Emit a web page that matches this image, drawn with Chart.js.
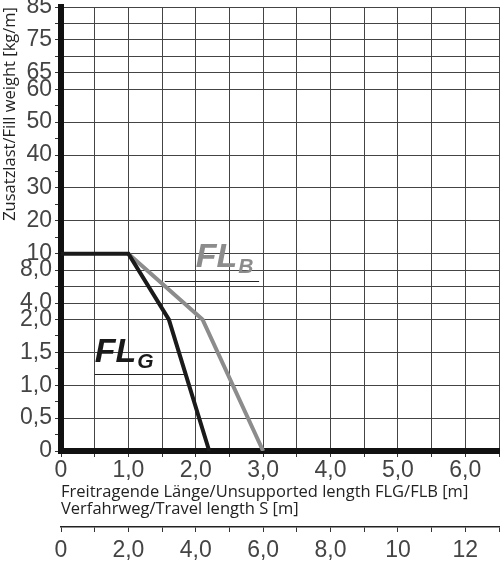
<!DOCTYPE html>
<html>
<head>
<meta charset="utf-8">
<script src="https://cdn.jsdelivr.net/npm/chart.js@4/dist/chart.umd.min.js"></script>
<style>
  html, body { margin: 0; padding: 0; background: #fff; }
  #wrap { width: 500px; height: 561px; }
</style>
</head>
<body>
<div id="wrap"><canvas id="chart" width="500" height="561"></canvas></div>
<script>
// FL_G curve (black) and FL_B curve (grey), length in m / fill weight in kg/m
const flgX = [0, 1.0, 1.6, 2.2];
const flgY = [10, 10, 2.0, 0];
const flbX = [1.0, 2.1, 3.0];
const flbY = [10, 2.0, 0];

// y axis: piecewise scale (0-2, 2-10, 10-85), grid rows per band
const yBreaks = [0, 2, 10, 85];
const yBandRows = [8, 4, 15];
const yGridValues = [0, 0.5, 1, 1.5, 2, 4, 6, 8, 10, 20, 30, 40, 50, 60, 65, 70, 75, 80, 85];
const yMinorValues = [0.25, 0.75, 1.25, 1.75, 15, 25, 35, 45, 55];
const yLabelValues = [0, 0.5, 1, 1.5, 2, 4, 8, 10, 20, 30, 40, 50, 60, 65, 75, 85];
const yLabelTexts = ['0', '0,5', '1,0', '1,5', '2,0', '4,0', '8,0', '10', '20', '30', '40', '50', '60', '65', '75', '85'];

// x axis (m) and travel length axis S (m)
const xLabelValues = [0, 1, 2, 3, 4, 5, 6];
const xLabelTexts = ['0', '1,0', '2,0', '3,0', '4,0', '5,0', '6,0'];
const sLabelValues = [0, 2, 4, 6, 8, 10, 12];
const sLabelTexts = ['0', '2,0', '4,0', '6,0', '8,0', '10', '12'];

// curve name labels (placed in data units)
const curveLabels = [
  { sub: 'G', color: '#1a1a1a', x: 0.5, y: 1.35, lineFrom: 0.5, lineTo: 1.84, lineY: 1.17 },
  { sub: 'B', color: '#8c8c8c', x: 2.0, y: 8.4, lineFrom: 1.54, lineTo: 2.94, lineY: 6.64 }
];

const tickFont = { family: '"Liberation Sans", Arial, sans-serif', size: 23 };
const titleFont = { family: '"Open Sans", sans-serif', size: 16.5 };

// piecewise linear scale
class PieceScale extends Chart.LinearScale {
  buildTicks() {
    this.start = this.min;
    this.end = this.max;
    return yGridValues.concat(yMinorValues).sort((a, b) => a - b).map(v => ({ value: v }));
  }
  getPixelForValue(value) {
    if (value === null || value === undefined) return NaN;
    const total = yBandRows.reduce((a, b) => a + b, 0);
    let rows = 0;
    for (let i = 0; i < yBandRows.length; i++) {
      const lo = yBreaks[i], hi = yBreaks[i + 1];
      if (value <= hi || i === yBandRows.length - 1) {
        rows += (value - lo) / (hi - lo) * yBandRows[i];
        break;
      }
      rows += yBandRows[i];
    }
    return this.getPixelForDecimal(rows / total);
  }
  getValueForPixel(pixel) {
    const total = yBandRows.reduce((a, b) => a + b, 0);
    let rows = this.getDecimalForPixel(pixel) * total;
    for (let i = 0; i < yBandRows.length; i++) {
      if (rows <= yBandRows[i] || i === yBandRows.length - 1) {
        return yBreaks[i] + rows / yBandRows[i] * (yBreaks[i + 1] - yBreaks[i]);
      }
      rows -= yBandRows[i];
    }
  }
}
PieceScale.id = 'piece';
PieceScale.defaults = Chart.LinearScale.defaults;
Chart.register(PieceScale);

const labelPlugin = {
  id: 'curveLabels',
  afterDatasetsDraw(chart) {
    const { ctx } = chart;
    const x = chart.scales.x, y = chart.scales.y;
    curveLabels.forEach(l => {
      const px = x.getPixelForValue(l.x);
      const py = y.getPixelForValue(l.y);
      ctx.save();
      ctx.fillStyle = l.color;
      ctx.textBaseline = 'alphabetic';
      ctx.font = 'italic bold 34px "Liberation Sans", Arial, sans-serif';
      ctx.fillText('FL', px, py);
      const w = ctx.measureText('FL').width;
      ctx.font = 'italic bold 21px "Liberation Sans", Arial, sans-serif';
      ctx.fillText(l.sub, px + w + 1, py + 6);
      const ly = Math.round(y.getPixelForValue(l.lineY)) + 0.5;
      ctx.strokeStyle = '#222';
      ctx.lineWidth = 1;
      ctx.beginPath();
      ctx.moveTo(x.getPixelForValue(l.lineFrom), ly);
      ctx.lineTo(x.getPixelForValue(l.lineTo), ly);
      ctx.stroke();
      ctx.restore();
    });
  }
};

function noSidePad(s) {
  s.paddingLeft = 0;
  s.paddingRight = 0;
}

const ctx = document.getElementById('chart').getContext('2d');
new Chart(ctx, {
  type: 'line',
  data: {
    datasets: [{
      label: 'FLG',
      data: flgX.map((v, i) => ({ x: v, y: flgY[i] })),
      borderColor: '#1a1a1a',
      borderWidth: 4,
      pointRadius: 0,
      tension: 0,
      fill: false
    }, {
      label: 'FLB',
      data: flbX.map((v, i) => ({ x: v, y: flbY[i] })),
      borderColor: '#8c8c8c',
      borderWidth: 4,
      pointRadius: 0,
      tension: 0,
      fill: false
    }]
  },
  options: {
    responsive: false,
    animation: false,
    layout: { padding: { top: 7, right: 1, left: 0, bottom: 0 } },
    plugins: {
      legend: { display: false },
      tooltip: { enabled: false }
    },
    scales: {
      x: {
        type: 'linear',
        position: 'bottom',
        min: 0,
        max: 6.5,
        afterFit: s => { s.height = 76; noSidePad(s); },
        ticks: {
          stepSize: 0.5,
          autoSkip: false,
          maxRotation: 0,
          padding: 0,
          color: '#444',
          font: tickFont,
          callback: v => {
            const i = xLabelValues.indexOf(v);
            return i >= 0 ? xLabelTexts[i] : '';
          }
        },
        grid: { color: '#444', lineWidth: 1, tickLength: 6, tickColor: '#333' },
        border: { display: true, color: '#111', width: 6 },
        title: {
          display: true,
          text: ['Freitragende Länge/Unsupported length FLG/FLB [m]', 'Verfahrweg/Travel length S [m]'],
          align: 'start',
          color: '#222',
          font: { ...titleFont, lineHeight: 1.05 },
          padding: { top: 0, bottom: 9 }
        }
      },
      x2: {
        type: 'linear',
        position: 'bottom',
        min: 0,
        max: 13,
        afterFit: s => { s.height = 34; noSidePad(s); },
        ticks: {
          stepSize: 1,
          autoSkip: false,
          maxRotation: 0,
          padding: 5,
          color: '#444',
          font: tickFont,
          callback: v => {
            const i = sLabelValues.indexOf(v);
            return i >= 0 ? sLabelTexts[i] : '';
          }
        },
        grid: { drawOnChartArea: false, tickLength: 5, color: '#333', lineWidth: 1 },
        border: { display: true, color: '#222', width: 1.5 }
      },
      y: {
        type: 'piece',
        position: 'left',
        min: 0,
        max: 85,
        afterFit: s => { s.width = 61; s.paddingTop = 0; s.paddingBottom = 0; },
        ticks: {
          autoSkip: false,
          padding: 3,
          color: '#444',
          font: tickFont,
          callback: v => {
            const i = yLabelValues.indexOf(v);
            return i >= 0 ? yLabelTexts[i] : '';
          }
        },
        grid: {
          lineWidth: 1,
          tickLength: 6,
          tickColor: '#333',
          color: c => (c.tick && yGridValues.includes(c.tick.value)) ? '#444' : 'rgba(0,0,0,0)'
        },
        border: { display: true, color: '#111', width: 6 },
        title: {
          display: true,
          text: 'Zusatzlast/Fill weight [kg/m]',
          align: 'end',
          color: '#222',
          font: { family: '"Open Sans", sans-serif', size: 16.5 },
          padding: { top: 0, bottom: 0 }
        }
      }
    }
  },
  plugins: [labelPlugin]
});
</script>
</body>
</html>
